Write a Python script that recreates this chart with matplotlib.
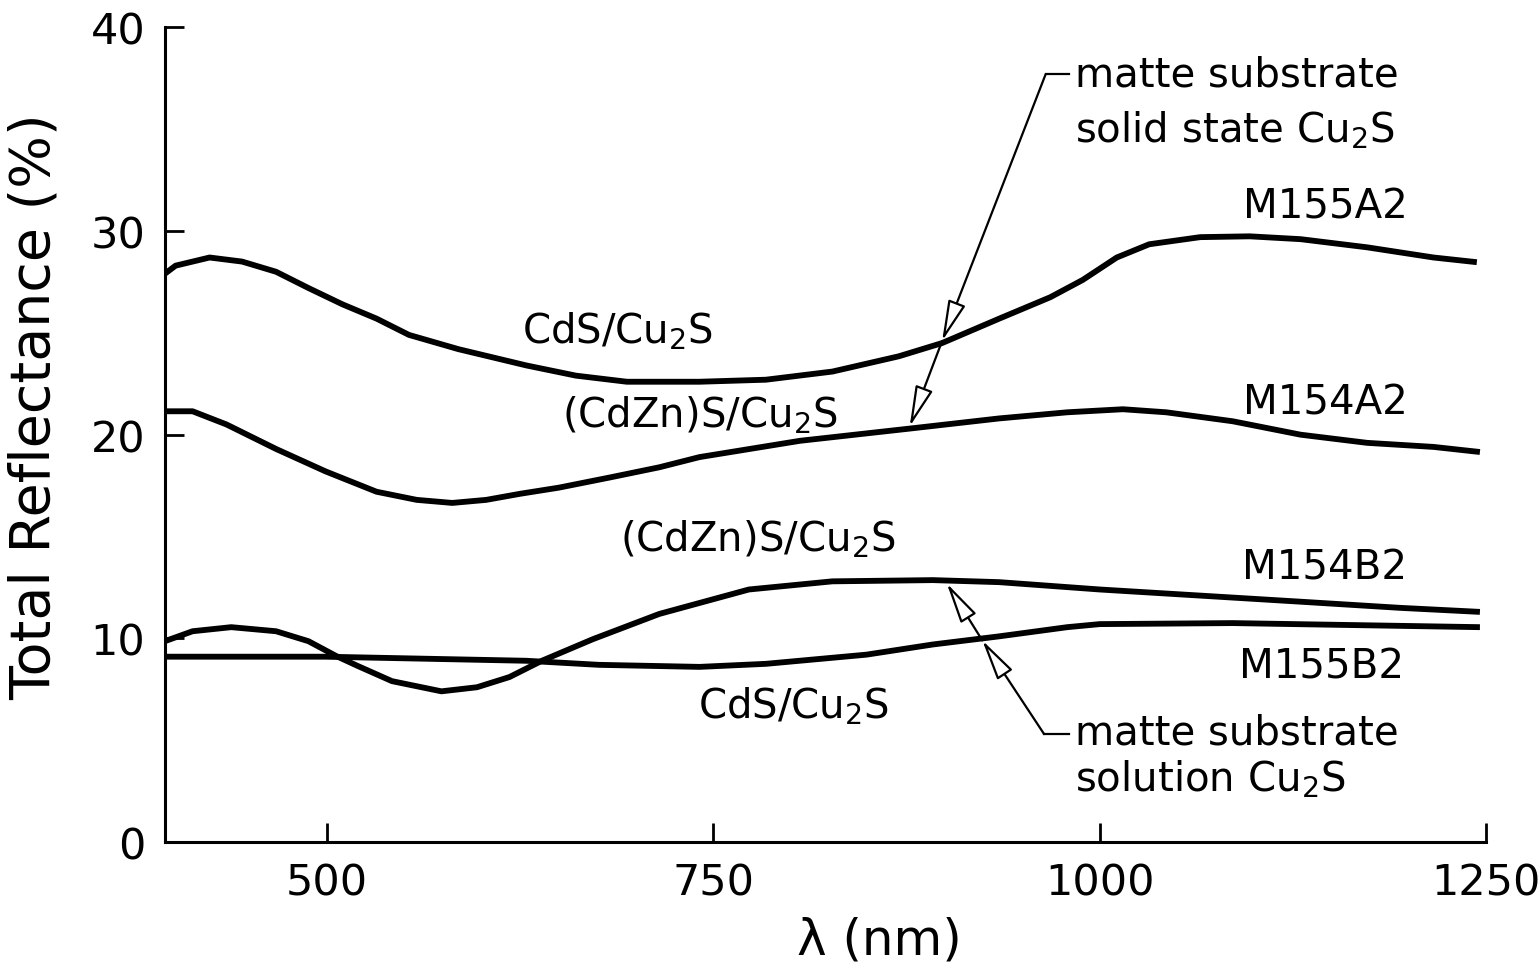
import numpy as np
import matplotlib
matplotlib.use('Agg')
import matplotlib.pyplot as plt

# wavelength (nm) / total reflectance (%)
m155a2_x = [395, 402, 424, 445, 467, 488, 510, 532, 553, 585, 607, 629, 661, 694, 741, 784, 827, 870,
            898, 935, 968, 989, 1011, 1032, 1065, 1097, 1130, 1173, 1216, 1244]
m155a2_y = [27.9, 28.3, 28.7, 28.5, 28.0, 27.2, 26.4, 25.7, 24.9, 24.2, 23.8, 23.4, 22.9, 22.6, 22.6, 22.7, 23.1, 23.85,
            24.5, 25.7, 26.75, 27.6, 28.7, 29.35, 29.7, 29.74, 29.6, 29.2, 28.7, 28.47]

m154a2_x = [395, 413, 435, 467, 499, 532, 558, 581, 603, 625, 650, 683, 715, 741, 806, 877, 935, 979, 1015,
            1043, 1086, 1130, 1173, 1216, 1246]
m154a2_y = [21.15, 21.15, 20.5, 19.3, 18.2, 17.2, 16.8, 16.65, 16.8, 17.1, 17.4, 17.9, 18.4, 18.9, 19.7, 20.3, 20.8, 21.1, 21.25,
            21.1, 20.66, 20.0, 19.6, 19.4, 19.15]

m154b2_x = [395, 413, 438, 467, 488, 506, 520, 542, 574, 597, 618, 639, 672, 715, 773, 827, 892, 935,
            1000, 1065, 1130, 1194, 1246]
m154b2_y = [9.86, 10.35, 10.55, 10.35, 9.86, 9.13, 8.64, 7.9, 7.4, 7.6, 8.1, 8.9, 9.96, 11.2, 12.4, 12.8, 12.86, 12.76,
            12.4, 12.1, 11.8, 11.5, 11.3]

m155b2_x = [395, 499, 629, 676, 741, 784, 849, 892, 935, 979, 1000, 1086, 1246]
m155b2_y = [9.1, 9.1, 8.9, 8.7, 8.6, 8.75, 9.2, 9.7, 10.1, 10.55, 10.7, 10.75, 10.55]

xticks = [500, 750, 1000, 1250]
yticks = [0, 10, 20, 30, 40]

fig = plt.figure(figsize=(15.4, 9.78), dpi=100)
ax = fig.add_axes([0.107, 0.138, 0.858, 0.833])

for xs, ys in [(m155a2_x, m155a2_y), (m154a2_x, m154a2_y), (m154b2_x, m154b2_y), (m155b2_x, m155b2_y)]:
    ax.plot(xs, ys, color='black', lw=4.2, solid_capstyle='butt', solid_joinstyle='round')

ax.set_xlim(395, 1250)
ax.set_ylim(0, 40)
ax.set_xticks(xticks)
ax.set_yticks(yticks)
ax.spines['top'].set_visible(False)
ax.spines['right'].set_visible(False)
for s in ['left', 'bottom']:
    ax.spines[s].set_linewidth(2.2)
ax.tick_params(direction='in', length=14, width=2, labelsize=31, pad=14)
ax.set_xlabel('λ (nm)', fontsize=36)
ax.xaxis.set_label_coords(0.541, -0.09)
ax.set_ylabel('Total Reflectance (%)', fontsize=40)
ax.yaxis.set_label_coords(-0.078, 0.535)

fs = 29
ax.text(688, 25.1, 'CdS/Cu$_2$S', fontsize=fs, ha='center', va='center')
ax.text(741, 21.0, '(CdZn)S/Cu$_2$S', fontsize=fs, ha='center', va='center')
ax.text(779, 14.9, '(CdZn)S/Cu$_2$S', fontsize=fs, ha='center', va='center')
ax.text(802, 6.7, 'CdS/Cu$_2$S', fontsize=fs, ha='center', va='center')

ax.text(1199, 31.2, 'M155A2', fontsize=fs, ha='right', va='center')
ax.text(1199, 21.6, 'M154A2', fontsize=fs, ha='right', va='center')
ax.text(1199, 13.5, 'M154B2', fontsize=fs, ha='right', va='center')
ax.text(1197, 8.6, 'M155B2', fontsize=fs, ha='right', va='center')

ax.text(984, 37.7, 'matte substrate', fontsize=fs, ha='left', va='center')
ax.text(984, 35.0, 'solid state Cu$_2$S', fontsize=fs, ha='left', va='center')
ax.text(984, 5.4, 'matte substrate', fontsize=fs, ha='left', va='center')
ax.text(984, 3.1, 'solution Cu$_2$S', fontsize=fs, ha='left', va='center')

aprops = dict(arrowstyle='-|>,head_length=0.9,head_width=0.2', lw=1.6,
              fc='white', ec='black', shrinkA=0, shrinkB=0, mutation_scale=28)

# upper callout
ax.plot([965, 980], [37.7, 37.7], color='black', lw=1.6)
ax.annotate('', xy=(898, 24.6), xytext=(965, 37.7), arrowprops=aprops)
ax.annotate('', xy=(877, 20.4), xytext=(898, 24.6), arrowprops=aprops)

# lower callout
ax.plot([964, 980], [5.3, 5.3], color='black', lw=1.6)
ax.annotate('', xy=(924, 9.9), xytext=(964, 5.3), arrowprops=aprops)
ax.annotate('', xy=(901, 12.7), xytext=(924, 9.9), arrowprops=aprops)

fig.savefig('out.png', dpi=100, facecolor='white')
